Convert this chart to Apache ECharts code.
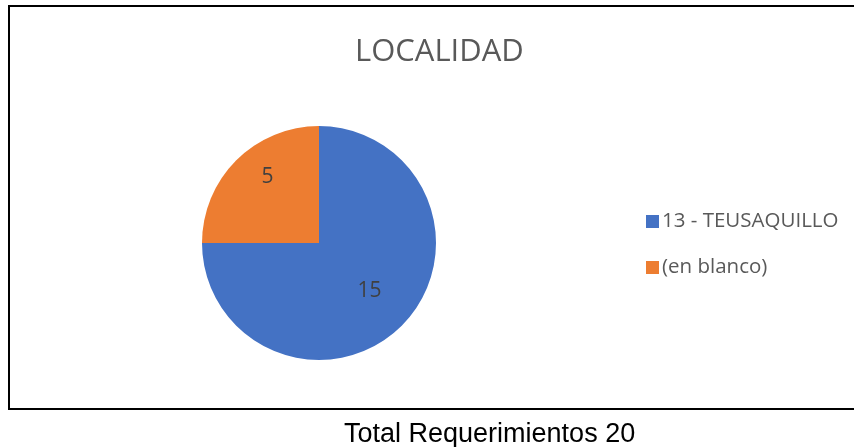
<!DOCTYPE html>
<html>
<head>
<meta charset="utf-8">
<script src="https://cdn.jsdelivr.net/npm/echarts@6/dist/echarts.min.js"></script>
<style>
  html, body { margin: 0; padding: 0; background: #fff; }
  #main { width: 854px; height: 447px; }
</style>
</head>
<body>
<div id="main"></div>
<script>
// datos de la grafica
var categories = ['13 - TEUSAQUILLO', '(en blanco)'];
var values = [15, 5];
var colors = ['#4472C4', '#ED7D31'];
var titleText = 'LOCALIDAD';
var footerText = 'Total Requerimientos 20';

// posicion de las etiquetas como en Excel
var labelOffsets = [[7, 5], [-8, -22]];

var myChart = echarts.init(document.getElementById('main'));

var pieData = categories.map(function (name, i) {
    return {
        name: name,
        value: values[i],
        itemStyle: { color: colors[i] },
        label: { offset: labelOffsets[i] }
    };
});

var option = {
    animation: false,
    title: [
        {
            text: titleText,
            left: 350,
            top: 32,
            textStyle: { fontFamily: 'Open Sans', fontSize: 31, fontWeight: 'normal', color: '#595959' }
        },
        {
            text: footerText,
            left: 339,
            top: 416,
            textStyle: { fontFamily: 'Liberation Sans', fontSize: 27, fontWeight: 'normal', color: '#000' }
        }
    ],
    legend: {
        orient: 'vertical',
        left: 641,
        top: 206,
        itemWidth: 13,
        itemHeight: 13,
        itemGap: 25,
        icon: 'rect',
        data: categories,
        textStyle: { fontFamily: 'Open Sans', fontSize: 20.5, color: '#595959', padding: [0, 0, 0, -2] }
    },
    graphic: [
        {
            type: 'rect',
            shape: { x: 9, y: 6, width: 870, height: 403 },
            style: { fill: 'none', stroke: '#000', lineWidth: 2 },
            silent: true
        }
    ],
    series: [
        {
            type: 'pie',
            center: [319, 243],
            radius: 117,
            startAngle: 90,
            clockwise: true,
            label: {
                show: true,
                position: 'inside',
                formatter: '{c}',
                fontFamily: 'Open Sans',
                fontSize: 21,
                color: '#404040'
            },
            labelLine: { show: false },
            itemStyle: { borderWidth: 0 },
            emphasis: { disabled: true },
            data: pieData
        }
    ]
};

myChart.setOption(option);
</script>
</body>
</html>
